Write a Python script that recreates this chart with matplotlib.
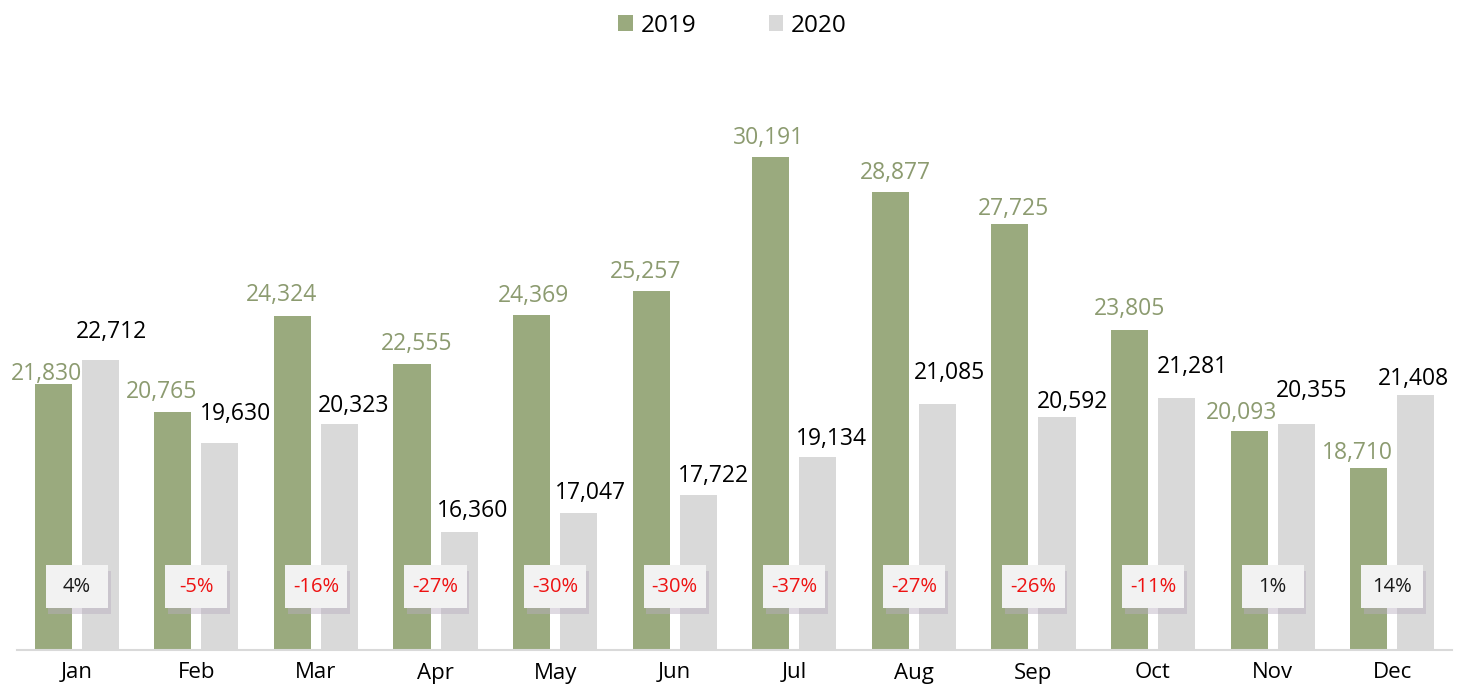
import matplotlib
matplotlib.use("Agg")
import matplotlib.pyplot as plt
import matplotlib.patches as mpatches
import matplotlib.patheffects as pe
import numpy as np

months = ["Jan", "Feb", "Mar", "Apr", "May", "Jun", "Jul", "Aug", "Sep", "Oct", "Nov", "Dec"]
v2019 = [21830, 20765, 24324, 22555, 24369, 25257, 30191, 28877, 27725, 23805, 20093, 18710]
v2020 = [22712, 19630, 20323, 16360, 17047, 17722, 19134, 21085, 20592, 21281, 20355, 21408]

# label nudges in pixels (labels were hand-placed in the original)
dx19 = [-7, -11, -11, 5, 2, -6, -2, 5, 4, 0, -8, -11]
dy19 = [4, 14, 15, 14, 13, 13, 13, 13, 9, 15, 12, 9]
dx20 = [11, 16, 14, 14, 12, 15, 14, 12, 16, 16, 15, -2]
dy20 = [22, 23, 12, 15, 14, 13, 12, 25, 9, 25, 27, 10]

green = "#9aaa7e"
gray = "#d9d9d9"
green_txt = "#8c9b70"

plt.rcParams['font.family'] = ['Open Sans', 'DejaVu Sans']

fig = plt.figure(figsize=(14.65, 6.94), dpi=100)
ax = fig.add_axes([17 / 1465, 44 / 694, 1435 / 1465, 596.4 / 694])

x = np.arange(len(months))
w = 0.31
off = 0.197
b1 = ax.bar(x - off, v2019, w, color=green, label="2019", zorder=2)
b2 = ax.bar(x + off, v2020, w, color=gray, label="2020", zorder=2)

ax.set_xlim(-0.5, 11.5)
ax.set_ylim(12000, 34000)

for i in range(len(months)):
    ax.annotate(f"{v2019[i]:,}", (x[i] - off, v2019[i]), xytext=(dx19[i], dy19[i]),
                textcoords="offset pixels", ha="center", va="baseline",
                fontsize=16.5, color=green_txt, zorder=4)
    ax.annotate(f"{v2020[i]:,}", (x[i] + off, v2020[i]), xytext=(dx20[i], dy20[i]),
                textcoords="offset pixels", ha="center", va="baseline",
                fontsize=16.5, color="black", zorder=4)

    pct = round((v2020[i] / v2019[i] - 1) * 100)
    bw, bh = 0.52, 1586
    yc = 14330
    rect = mpatches.Rectangle((x[i] - bw / 2, yc - bh / 2), bw, bh, facecolor="#f2f2f2",
                              edgecolor="none", zorder=5)
    rect.set_path_effects([pe.SimplePatchShadow(offset=(2, -4), shadow_rgbFace="#b8aec0", alpha=0.45),
                           pe.Normal()])
    ax.add_patch(rect)
    ax.text(x[i], yc, f"{pct}%", ha="center", va="center", fontsize=14.5,
            color="#ee1111" if pct < 0 else "#1a1a1a", zorder=6)

for s in ["top", "right", "left"]:
    ax.spines[s].set_visible(False)
ax.spines["bottom"].set_color("#d9d9d9")
ax.spines["bottom"].set_linewidth(1.5)
ax.set_yticks([])
ax.set_xticks(x)
ax.set_xticklabels(months, fontsize=16)
ax.tick_params(axis="x", length=0, pad=9)

fig.legend(handles=[b1, b2], loc="upper center", bbox_to_anchor=(0.5, 1.012), ncol=2,
           frameon=False, fontsize=17.5, handlelength=0.6, handleheight=0.6,
           columnspacing=3.0, handletextpad=0.3)

fig.savefig("out.png", dpi=100)
